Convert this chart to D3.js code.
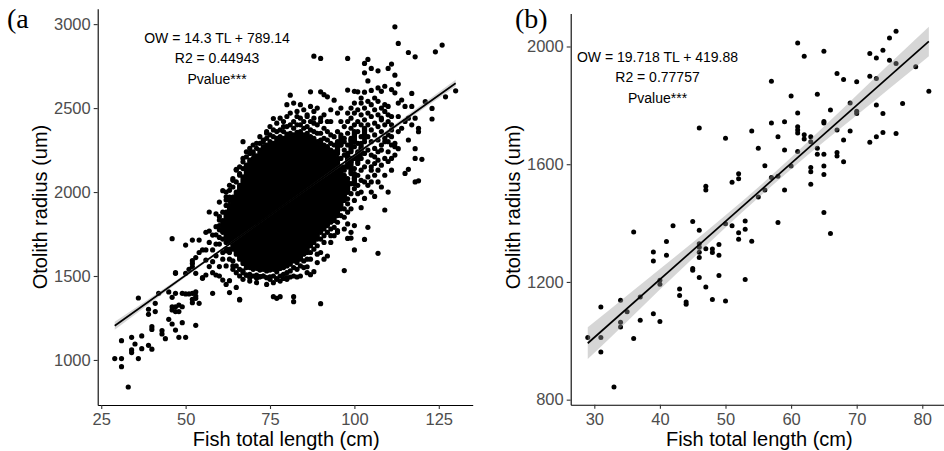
<!DOCTYPE html>
<html>
<head>
<meta charset="utf-8">
<script src="https://cdn.jsdelivr.net/npm/d3@7/dist/d3.min.js"></script>
<style>
body { margin: 0; background: #fff; }
text { font-family: "Liberation Sans", Arial, sans-serif; }
</style>
</head>
<body>
<div id="chart"></div>
<script>
// ---- panel (a): all fish ----
var ticksAx = [25, 50, 75, 100, 125]
var ticksAy = [1000, 1500, 2000, 2500, 3000]
var coefA = [14.3, 789.14]
var labelsA = ['OW = 14.3 TL + 789.14', 'R2 = 0.44943', 'Pvalue***']
// solid part of the cloud, read per 1 cm column: [TL, lowest OR, highest OR]
var coreA = [
    [61, 1770, 1830], [62, 1730, 1880], [63, 1700, 1920], [64, 1660, 1970], [65, 1630, 2000],
    [66, 1600, 2040], [67, 1575, 2090], [68, 1550, 2160], [69, 1550, 2190], [70, 1540, 2200],
    [71, 1545, 2215], [72, 1535, 2250], [73, 1540, 2270], [74, 1530, 2280], [75, 1535, 2300],
    [76, 1540, 2290], [77, 1525, 2320], [78, 1545, 2330], [79, 1550, 2320], [80, 1560, 2345],
    [81, 1570, 2350], [82, 1590, 2340], [83, 1580, 2355], [84, 1600, 2360], [85, 1630, 2340],
    [86, 1640, 2350], [87, 1680, 2330], [88, 1700, 2320], [89, 1720, 2300], [90, 1760, 2310],
    [91, 1780, 2280], [92, 1800, 2270], [93, 1820, 2250], [94, 1830, 2240], [95, 1860, 2200],
    [96, 1900, 2150], [97, 1950, 2100], [98, 2000, 2060], [99, 2120, 2200],
    [95, 2230, 2290], [96, 2280, 2340], [98, 2150, 2230], [99, 2250, 2320], [100, 2050, 2110],
    [100, 2300, 2360], [101, 2180, 2230], [102, 2230, 2290], [103, 2320, 2380]
]
// single fish outside the solid part: [TL, OR]
var pointsA = [
    // small fish
    [29, 1008], [31, 1008], [31, 960], [33, 839], [31, 1115], [34, 1135], [34, 1060], [34, 1044],
    [35, 1095], [36, 1008], [37, 1143], [37, 1067], [36, 1369], [39, 1302], [39, 1272], [39, 1087],
    [40, 1064], [41, 1337], [41, 1288], [40, 1198], [40, 1182], [42, 1397], [43, 1175], [43, 1155],
    [44, 1127], [45, 1405], [45, 1242], [46, 1373], [46, 1317], [46, 1298], [47, 1317], [47, 1288],
    [46, 1214], [47, 1516], [48, 1327], [48, 1288], [47, 1178], [48, 1135], [49, 1317], [49, 1222],
    [50, 1135], [50, 1393], [51, 1393], [51, 1540], [52, 1361], [52, 1341], [53, 1405], [53, 1381],
    [54, 1337], [53, 1206], [52, 1575], [55, 1486], [56, 1506], [58, 1397], [59, 1506], [57, 1556],
    [60, 1556], [63, 1472], [63, 1401], [65, 1432], [66, 1361], [68, 1506],
    [46, 1722], [50, 1684], [52, 1714], [54, 1714], [57, 1881], [55, 1655], [58, 1655], [59, 1690],
    [57, 1768], [59, 1794], [60, 1833], [61, 2008], [62, 1952], [61, 1760], [60, 1730], [59, 1745],
    [52, 1591], [52, 1555], [56, 1595], [53, 1516], [55, 1490], [58, 1520], [50, 1516], [47, 1520],
    [47, 1397], [49, 1397], [52, 1397], [53, 1367], [60, 1500], [58, 1585], [59, 1620], [61, 1640],
    [56, 1655], [58, 1744], [60, 1690], [61, 1600], [62, 1560], [64, 1540], [62, 1660],
    [61, 1880], [60, 1940], [62, 2000], [59, 1870], [56, 1760], [57, 1700], [54, 1640], [53, 1610],
    [61, 1476], [62, 1450], [66, 1357], [60, 1853], [60, 1775], [62, 1972], [65, 2131], [67, 2300],
    [70, 2230], [69, 2150], [60, 1800], [61, 1720], [62, 1700], [63, 1660], [62, 1920], [63, 1950],
    // ragged top edge of the cloud
    [63, 1970], [63, 2010], [64, 2030], [64, 2070], [65, 2060], [66, 2110], [66, 2150], [67, 2140],
    [67, 2200], [68, 2210], [68, 2240], [69, 2230], [70, 2240], [70, 2280], [71, 2260], [72, 2290],
    [72, 2330], [73, 2310], [74, 2320], [74, 2350], [75, 2340], [75, 2390], [76, 2330], [76, 2370],
    [77, 2360], [77, 2410], [78, 2370], [78, 2440], [79, 2360], [79, 2390], [80, 2390], [80, 2450],
    [81, 2400], [81, 2470], [82, 2380], [82, 2420], [83, 2400], [83, 2480], [84, 2400], [84, 2440],
    [85, 2380], [85, 2420], [85, 2490], [86, 2390], [86, 2450], [87, 2370], [87, 2420], [87, 2510],
    [88, 2360], [88, 2440], [89, 2350], [89, 2400], [90, 2350], [90, 2420], [91, 2320], [91, 2380],
    [91, 2460], [92, 2310], [92, 2360], [93, 2290], [93, 2340], [93, 2420], [94, 2280], [94, 2330],
    [95, 2250], [95, 2300], [95, 2360], [96, 2200], [96, 2280], [97, 2150], [97, 2220], [97, 2300],
    // ragged bottom edge of the cloud
    [62, 1650], [63, 1640], [63, 1600], [64, 1590], [64, 1560], [65, 1560], [65, 1520], [66, 1540],
    [66, 1500], [67, 1530], [67, 1480], [68, 1505], [69, 1510], [69, 1470], [70, 1500], [71, 1505],
    [71, 1460], [72, 1495], [73, 1500], [74, 1490], [74, 1450], [75, 1495], [76, 1500], [76, 1460],
    [77, 1485], [78, 1500], [78, 1470], [79, 1510], [80, 1520], [80, 1480], [81, 1530], [82, 1550],
    [82, 1500], [83, 1540], [84, 1560], [85, 1590], [85, 1550], [86, 1600], [87, 1640], [87, 1600],
    [88, 1660], [89, 1680], [89, 1630], [90, 1720], [91, 1740], [91, 1700], [92, 1760], [93, 1780],
    [93, 1740], [94, 1790], [95, 1820], [95, 1770], [96, 1860], [97, 1900], [97, 1850], [98, 1880],
    [98, 1930],
    // below the cloud
    [69, 1490], [71, 1486], [72, 1496], [77, 1480], [80, 1490], [83, 1494], [86, 1520], [88, 1526],
    [77, 1367], [82, 1377], [79, 1485], [81, 1494], [87, 1508], [86, 1555], [92, 1619], [97, 1532],
    [90, 1335], [98, 1724], [100, 1655], [103, 1718], [104, 1790], [107, 1635], [109, 1893],
    [99, 1760], [100, 1800], [99, 1726], [97, 1780], [98, 1810], [102, 1907], [103, 1962],
    [106, 1974], [110, 2000], [101, 1990], [100, 1950], [99, 1900], [90, 1640], [93, 1700],
    [95, 1760], [94, 1740], [91, 1600], [89, 1580], [84, 1500], [75, 1480], [73, 1500], [67, 1520],
    [76, 1377], [78, 1377], [82, 1347],
    // dotted right part of the cloud
    [97, 1980], [97, 2060], [97, 2130], [97, 2250], [97, 2320], [97, 2390],
    [98, 1960], [98, 2000], [98, 2080], [98, 2150], [98, 2200], [98, 2280], [98, 2350], [98, 2420], [98, 2470],
    [99, 1990], [99, 2050], [99, 2110], [99, 2180], [99, 2240], [99, 2310], [99, 2380], [99, 2440], [99, 2500],
    [100, 2020], [100, 2080], [100, 2140], [100, 2200], [100, 2270], [100, 2330], [100, 2400], [100, 2470], [100, 2530],
    [101, 2040], [101, 2100], [101, 2170], [101, 2240], [101, 2290], [101, 2360], [101, 2420], [101, 2490],
    [102, 2000], [102, 2070], [102, 2130], [102, 2200], [102, 2260], [102, 2330], [102, 2400], [102, 2460], [102, 2530],
    [103, 2060], [103, 2150], [103, 2230], [103, 2300], [103, 2370], [103, 2430], [103, 2500],
    [104, 2090], [104, 2180], [104, 2250], [104, 2330], [104, 2400], [104, 2470], [104, 2540],
    [105, 2060], [105, 2130], [105, 2220], [105, 2300], [105, 2370], [105, 2450], [105, 2520],
    [106, 2100], [106, 2170], [106, 2260], [106, 2340], [106, 2410], [106, 2490],
    [107, 2130], [107, 2240], [107, 2310], [107, 2390], [107, 2460], [107, 2540],
    [108, 2160], [108, 2280], [108, 2360], [108, 2430], [108, 2500],
    [109, 2200], [109, 2320], [109, 2400], [109, 2480],
    [110, 2240], [110, 2300], [110, 2420], [110, 2510],
    [111, 2200], [111, 2280], [111, 2370], [111, 2450],
    // above the cloud and large fish
    [65, 2135], [68, 2135], [69, 2260], [63, 2040], [64, 2080], [66, 2100], [67, 2180],
    [71, 2290], [73, 2300], [74, 2360], [76, 2438], [79, 2420], [81, 2577], [80, 2520], [82, 2530],
    [84, 2520], [83, 2450], [86, 2460], [87, 2597], [88, 2480], [89, 2500], [90, 2597], [91, 2580],
    [92, 2567], [93, 2490], [94, 2547], [95, 2470], [96, 2500], [98, 2607], [101, 2597], [88, 2809],
    [90, 2796], [96, 2420], [92, 2420], [90, 2440], [88, 2410],
    [98, 2796], [104, 2790], [103, 2766], [107, 2722], [105, 2736], [110, 2736], [111, 2762],
    [103, 2710], [112, 2696], [104, 2662], [107, 2620], [109, 2630], [111, 2610], [113, 2643],
    [117, 2587], [112, 2591], [100, 2600], [103, 2595], [105, 2605], [108, 2600], [102, 2560],
    [112, 2984], [113, 2885], [116, 2831], [118, 2805], [124, 2835], [126, 2875],
    [130, 2603], [127, 2567], [123, 2498], [123, 2435], [121, 2538], [117, 2510], [118, 2440],
    [119, 2380], [117, 2400], [113, 2530], [114, 2548], [115, 2510], [113, 2450], [115, 2420],
    [116, 2440], [114, 2380], [110, 2460], [111, 2400], [109, 2520], [108, 2440], [106, 2560],
    [119, 2359], [116, 2310], [118, 2258], [118, 2200], [120, 2195], [116, 2135], [115, 2111],
    [118, 2060], [119, 2067], [113, 2258], [112, 2290], [110, 2182], [107, 2190], [112, 2220],
    [112, 2270], [109, 2300], [110, 2340], [108, 2250], [111, 2130], [109, 2100], [107, 2060],
    [105, 2150], [106, 2210], [104, 2040], [105, 2000], [108, 2030], [113, 2360], [111, 2330]
]

// ---- panel (b): subsample ----
var ticksBx = [30, 40, 50, 60, 70, 80]
var ticksBy = [800, 1200, 1600, 2000]
var coefB = [19.718, 419.88]
var labelsB = ['OW = 19.718 TL + 419.88', 'R2 = 0.77757', 'Pvalue***']
var pointsB = [
    [29, 1011], [31, 1115], [31, 1011], [31, 962], [33, 843], [34, 1138], [34, 1063], [34, 1047],
    [35, 1099], [36, 1370], [36, 1008], [37, 1149], [37, 1070], [39, 1302], [39, 1271], [39, 1092],
    [40, 1206], [40, 1192], [40, 1066], [41, 1337], [41, 1291], [42, 1391], [43, 1176], [43, 1154],
    [44, 1132], [44, 1124], [45, 1405], [45, 1246], [45, 1240], [46, 1723], [46, 1376], [46, 1330],
    [46, 1318], [46, 1301], [46, 1283], [46, 1215], [47, 1525], [47, 1512], [47, 1313], [47, 1183],
    [48, 1312], [48, 1300], [48, 1140], [49, 1327], [49, 1291], [49, 1222], [50, 1688], [50, 1398],
    [50, 1135], [51, 1539], [51, 1391], [52, 1568], [52, 1551], [52, 1367], [52, 1345], [53, 1407],
    [53, 1379], [53, 1208], [54, 1713], [54, 1338], [55, 1654], [55, 1489], [56, 1595], [56, 1512],
    [57, 1882], [57, 1740], [57, 1555], [58, 1693], [58, 1559], [58, 1402], [59, 1744], [59, 1648],
    [59, 1512], [60, 1832], [60, 1594], [61, 2012], [61, 1774], [61, 1727], [61, 1716], [61, 1706],
    [61, 1643], [62, 1967], [62, 1700], [62, 1686], [63, 1693], [63, 1676], [63, 1589], [63, 1574],
    [63, 1532], [64, 1838], [64, 1654], [64, 1634], [65, 1984], [65, 1745], [65, 1740], [65, 1634],
    [65, 1594], [65, 1565], [65, 1436], [66, 1784], [66, 1365], [67, 1908], [67, 1716], [67, 1640],
    [67, 1628], [68, 1888], [68, 1682], [68, 1608], [69, 1808], [69, 1713], [70, 1880], [70, 1780],
    [70, 1772], [72, 1976], [72, 1899], [72, 1675], [73, 1961], [73, 1891], [73, 1801], [73, 1693],
    [74, 1987], [74, 1772], [74, 1708], [75, 2029], [75, 1953], [76, 2052], [76, 1942], [76, 1704],
    [77, 1806], [79, 1931], [81, 1848]
]
// 95% confidence band of the fit: [TL, lower, upper]
var bandB = [
    [29, 938, 1046], [35, 1066, 1154], [40, 1174, 1244], [45, 1280, 1334], [50, 1385, 1427],
    [55, 1486, 1522], [60, 1583, 1623], [65, 1676, 1728], [70, 1766, 1834], [75, 1857, 1941],
    [81, 1967, 2067]
]
var bandA = [
    [29, 1180, 1228], [50, 1494, 1514], [80, 1929, 1937], [100, 2210, 2228], [130, 2628, 2668]
]

var width = 944
var height = 451

var svg = d3.select('#chart').append('svg')
    .attr('width', width)
    .attr('height', height)

function padded(ext) {
    var p = (ext[1] - ext[0]) * 0.05
    return [ext[0] - p, ext[1] + p]
}

function drawPanel(opt) {
    var x = d3.scaleLinear().domain(padded(d3.extent(opt.points, d => d[0]))).range(opt.xr)
    var y = d3.scaleLinear().domain(padded(d3.extent(opt.points, d => d[1]))).range(opt.yr)
    var g = svg.append('g')

    if (opt.core) {
        g.append('g').selectAll('line')
            .data(opt.core)
            .enter()
            .append('line')
            .attr('x1', d => x(d[0]))
            .attr('x2', d => x(d[0]))
            .attr('y1', d => y(d[1]))
            .attr('y2', d => y(d[2]))
            .attr('stroke', '#000')
            .attr('stroke-width', 5.2)
            .attr('stroke-linecap', 'round')
    }

    g.append('g').selectAll('circle')
        .data(opt.points)
        .enter()
        .append('circle')
        .attr('cx', d => x(d[0]))
        .attr('cy', d => y(d[1]))
        .attr('r', opt.r)
        .attr('fill', '#000')

    var area = d3.area()
        .x(d => x(d[0]))
        .y0(d => y(d[1]))
        .y1(d => y(d[2]))
        .curve(d3.curveMonotoneX)
    g.append('path')
        .datum(opt.band)
        .attr('d', area)
        .attr('fill', '#999999')
        .attr('fill-opacity', 0.4)

    var ext = d3.extent(opt.points, d => d[0])
    var fit = ext.map(t => [t, opt.coef[0] * t + opt.coef[1]])
    g.append('path')
        .datum(fit)
        .attr('d', d3.line().x(d => x(d[0])).y(d => y(d[1])))
        .attr('stroke', '#000')
        .attr('stroke-width', 1.7)
        .attr('fill', 'none')

    // axes
    var ax = g.append('g')
        .attr('transform', 'translate(0,' + opt.yr[0] + ')')
        .call(d3.axisBottom(x).tickValues(opt.ticksX).tickFormat(d3.format('d'))
            .tickSize(4).tickSizeOuter(0).tickPadding(4))
    var ay = g.append('g')
        .attr('transform', 'translate(' + opt.xr[0] + ',0)')
        .call(d3.axisLeft(y).tickValues(opt.ticksY).tickFormat(d3.format('d'))
            .tickSize(4).tickSizeOuter(0).tickPadding(3))
    ;[ax, ay].forEach(a => {
        a.select('.domain').attr('stroke', '#000').attr('stroke-width', 1.1)
        a.selectAll('.tick line').attr('stroke', '#333').attr('stroke-width', 1.1)
        a.selectAll('.tick text')
            .attr('fill', '#4D4D4D')
            .style('font-size', '16.5px')
            .style('font-family', '"Liberation Sans", Arial, sans-serif')
    })

    g.append('text')
        .attr('x', (opt.xr[0] + opt.xr[1]) / 2 + 1)
        .attr('y', 446)
        .attr('text-anchor', 'middle')
        .style('font-size', '20px')
        .text('Fish total length (cm)')
    g.append('text')
        .attr('transform', 'translate(' + opt.titleX + ',' + 207 + ') rotate(-90)')
        .attr('text-anchor', 'middle')
        .style('font-size', '20px')
        .text('Otolith radius (um)')

    g.selectAll('.ann')
        .data(opt.labels)
        .enter()
        .append('text')
        .attr('class', 'ann')
        .attr('x', opt.annX)
        .attr('y', (d, i) => opt.annY + i * 20.5)
        .attr('text-anchor', 'middle')
        .style('font-size', '14px')
        .text(d => d)

    g.append('text')
        .attr('x', opt.tagX)
        .attr('y', 28)
        .style('font-family', '"Liberation Serif", "Times New Roman", serif')
        .style('font-size', '28px')
        .text(opt.tag)
}

drawPanel({
    points: pointsA, core: coreA, band: bandA, coef: coefA, labels: labelsA,
    ticksX: ticksAx, ticksY: ticksAy,
    xr: [97.7, 472.7], yr: [405, 8.8], r: 2.6,
    titleX: 46.5, annX: 217, annY: 42.5, tag: '(a', tagX: 7
})

drawPanel({
    points: pointsB, core: null, band: bandB, coef: coefB, labels: labelsB,
    ticksX: ticksBx, ticksY: ticksBy,
    xr: [570.7, 945.9], yr: [404.8, 13.4], r: 2.5,
    titleX: 520.3, annX: 657.5, annY: 61.5, tag: '(b)', tagX: 515
})
</script>
</body>
</html>
